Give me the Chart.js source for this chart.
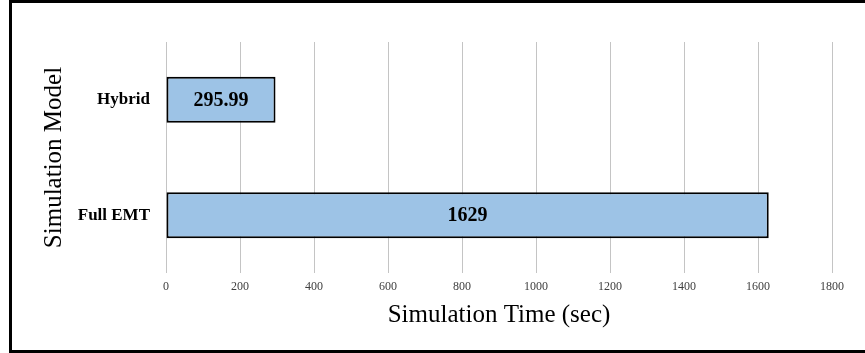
<!DOCTYPE html>
<html lang="en">
<head>
  <meta charset="UTF-8" />
  <title>Simulation Time</title>
  <script src="https://cdn.jsdelivr.net/npm/chart.js"></script>
  <style>
    html, body {
      margin: 0;
      padding: 0;
      background: #fff;
      overflow: hidden;
    }
    canvas { display: block; }
  </style>
</head>
<body>
  <canvas id="chart" width="865" height="353"></canvas>

  <script>
    const categories = ['Hybrid', 'Full EMT'];
    const simTimes = [295.99, 1629];
    const valueLabels = ['295.99', '1629'];
    const xMin = 0;
    const xMax = 1800;
    const xStep = 200;

    const serif = "'Liberation Serif', 'Times New Roman', serif";

    // writes the value in the middle of each bar
    const barLabels = {
      id: 'barLabels',
      afterDatasetsDraw(chart) {
        const ctx = chart.ctx;
        const meta = chart.getDatasetMeta(0);
        ctx.save();
        ctx.font = 'bold 20px ' + serif;
        ctx.fillStyle = '#000';
        ctx.textAlign = 'center';
        ctx.textBaseline = 'middle';
        meta.data.forEach((bar, i) => {
          ctx.fillText(valueLabels[i], (bar.base + bar.x) / 2, bar.y + 1);
        });
        ctx.restore();
      }
    };

    // picture frame: left, top and bottom edges only (right edge is cut off)
    const frame = {
      id: 'frame',
      afterDraw(chart) {
        const ctx = chart.ctx;
        ctx.save();
        ctx.strokeStyle = '#000';
        ctx.lineWidth = 3;
        ctx.beginPath();
        ctx.moveTo(chart.width + 5, 1.5);
        ctx.lineTo(10.5, 1.5);
        ctx.lineTo(10.5, chart.height - 1.5);
        ctx.lineTo(chart.width + 5, chart.height - 1.5);
        ctx.stroke();
        ctx.restore();
      }
    };

    new Chart(document.getElementById('chart').getContext('2d'), {
      type: 'bar',
      data: {
        labels: categories,
        datasets: [{
          data: simTimes,
          backgroundColor: '#9DC3E6',
          borderColor: '#000',
          borderWidth: 2,
          borderSkipped: false,
          barPercentage: 0.4,
          categoryPercentage: 1.0
        }]
      },
      options: {
        indexAxis: 'y',
        responsive: false,
        animation: false,
        devicePixelRatio: 1,
        layout: { padding: { top: 42, left: 0, right: 33, bottom: 0 } },
        plugins: {
          legend: { display: false },
          tooltip: { enabled: false }
        },
        scales: {
          x: {
            min: xMin,
            max: xMax,
            ticks: {
              stepSize: xStep,
              padding: 7,
              color: '#404040',
              font: { family: serif, size: 12 },
              callback: v => String(v)
            },
            grid: { color: '#c4c4c4', lineWidth: 1, drawTicks: false },
            border: { display: false },
            title: {
              display: true,
              text: 'Simulation Time (sec)',
              color: '#000',
              font: { family: serif, size: 25 },
              padding: { top: 0, bottom: 23 }
            },
            afterFit(scale) { scale.height = 80; }
          },
          y: {
            ticks: {
              padding: 16,
              color: '#000',
              font: { family: serif, size: 17, weight: 'bold' }
            },
            grid: { display: false, drawTicks: false },
            border: { display: false },
            title: {
              display: true,
              text: 'Simulation Model',
              color: '#000',
              font: { family: serif, size: 25 },
              padding: { top: 39, bottom: 0 }
            },
            afterFit(scale) { scale.width = 166; }
          }
        }
      },
      plugins: [barLabels, frame]
    });
  </script>
</body>
</html>
